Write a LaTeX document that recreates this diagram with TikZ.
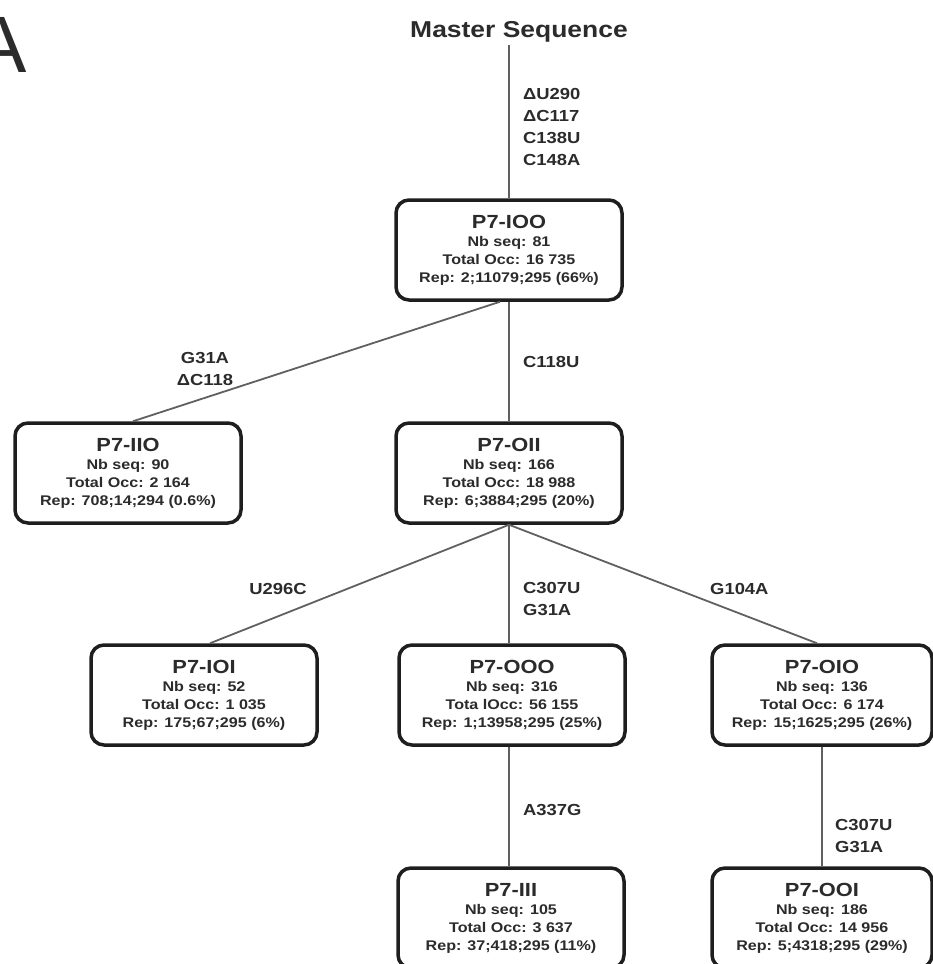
\documentclass[tikz,border=0pt]{standalone}
\usepackage{fontspec}
\setmainfont{Liberation Sans}
\newfontfamily\stsans[FakeStretch=1.15]{Liberation Sans}
\definecolor{boxc}{HTML}{1E1E1E}
\definecolor{txt}{HTML}{2B2B2B}
\definecolor{linec}{HTML}{606060}
\newcommand{\ttl}[1]{{\fontsize{19}{21}\selectfont #1}}
\begin{document}
\begin{tikzpicture}[x=1pt,y=-1pt,
  box/.style={draw=boxc, line width=3.5pt, rounded corners=13pt, fill=white,
    minimum width=226pt, minimum height=100pt, align=center, text=txt,
    font=\stsans\bfseries\fontsize{14}{18}\selectfont, inner sep=0pt},
  conn/.style={draw=linec, line width=1.8pt},
  mut/.style={font=\stsans\bfseries\fontsize{16}{22}\selectfont, text=txt, inner sep=0pt}]
\useasboundingbox (0,0) rectangle (933,964);
\node[font=\fontsize{80}{80}\selectfont, text=txt, anchor=base, inner sep=0pt] (lblA) at (0,72) {A};
\node[font=\stsans\bfseries\fontsize{23}{26}\selectfont, text=txt, inner sep=2pt] (ms) at (519,32) {Master Sequence};

\node[box] (IOO) at (509,250) {\ttl{P7-IOO}\\Nb seq: 81\\Total Occ: 16 735\\Rep: 2;11079;295 (66\%)};
\node[box] (IIO) at (128,473) {\ttl{P7-IIO}\\Nb seq: 90\\Total Occ: 2 164\\Rep: 708;14;294 (0.6\%)};
\node[box] (OII) at (509,473) {\ttl{P7-OII}\\Nb seq: 166\\Total Occ: 18 988\\Rep: 6;3884;295 (20\%)};
\node[box] (IOI) at (204,695) {\ttl{P7-IOI}\\Nb seq: 52\\Total Occ: 1 035\\Rep: 175;67;295 (6\%)};
\node[box] (OOO) at (512,695) {\ttl{P7-OOO}\\Nb seq: 316\\Tota lOcc: 56 155\\Rep: 1;13958;295 (25\%)};
\node[box, minimum width=220pt] (OIO) at (822,695) {\ttl{P7-OIO}\\Nb seq: 136\\Total Occ: 6 174\\Rep: 15;1625;295 (26\%)};
\node[box] (III) at (511,918) {\ttl{P7-III}\\Nb seq: 105\\Total Occ: 3 637\\Rep: 37;418;295 (11\%)};
\node[box, minimum width=220pt] (OOI) at (822,918) {\ttl{P7-OOI}\\Nb seq: 186\\Total Occ: 14 956\\Rep: 5;4318;295 (29\%)};

\draw[conn] (IOO.north |- ms.south) -- (IOO.north);
\draw[conn] ([xshift=-9pt]IOO.south) -- ([xshift=5pt]IIO.north);
\draw[conn] (IOO.south) -- (OII.north);
\draw[conn] (OII.south) -- ([xshift=6pt]IOI.north);
\draw[conn] (OII.south) -- (OII.south |- OOO.north);
\draw[conn] (OII.south) -- ([xshift=-5pt]OIO.north);
\draw[conn] (OII.south |- OOO.south) -- (OII.south |- III.north);
\draw[conn] (OIO.south) -- (OOI.north);

\node[mut, anchor=north west, align=left] (m0) at (523,88) {ΔU290\\ΔC117\\C138U\\C148A};
\node[mut, anchor=west] (m1) at (523,362) {C118U};
\node[mut, align=center] (m2) at (205,369) {G31A\\ΔC118};
\node[mut] (m3) at (278,589) {U296C};
\node[mut, anchor=north west, align=left] (m4) at (523,582) {C307U\\G31A};
\node[mut, anchor=west] (m5) at (710,589) {G104A};
\node[mut, anchor=west] (m6) at (523,810) {A337G};
\node[mut, anchor=north west, align=left] (m7) at (835,819) {C307U\\G31A};
\end{tikzpicture}
\end{document}
